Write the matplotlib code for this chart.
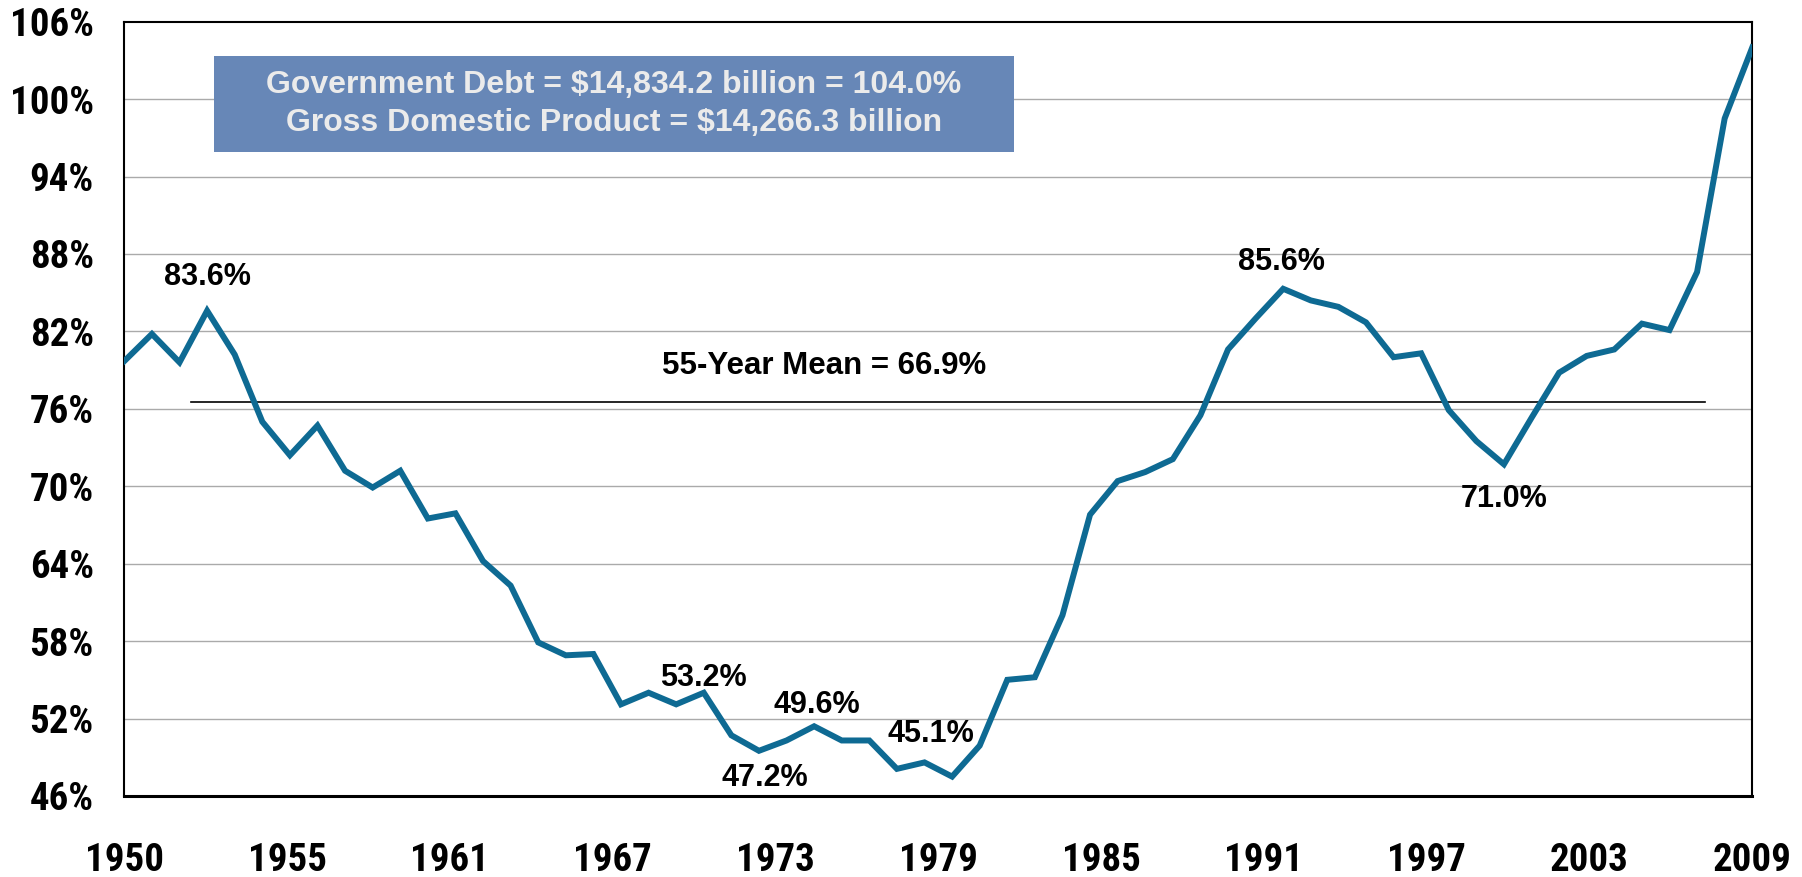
import numpy as np
import matplotlib
matplotlib.use("Agg")
import matplotlib.pyplot as plt
from matplotlib import font_manager
from matplotlib.patches import Rectangle

# Data (debt as % of GDP, one value per year 1950-2009)
years = list(range(1950, 2010))
debt_pct = [79.7, 81.8, 79.6, 83.6, 80.2, 75.0, 72.4, 74.7, 71.2, 69.9,
            71.2, 67.5, 67.9, 64.2, 62.3, 57.9, 56.9, 57.0, 53.1, 54.0,
            53.1, 54.0, 50.7, 49.5, 50.3, 51.4, 50.3, 50.3, 48.1, 48.6,
            47.5, 49.9, 55.0, 55.2, 60.0, 67.8, 70.4, 71.1, 72.1, 75.5,
            80.6, 83.0, 85.3, 84.4, 83.9, 82.7, 80.0, 80.3, 75.9, 73.5,
            71.7, 75.3, 78.8, 80.1, 80.6, 82.6, 82.1, 86.6, 98.5, 104.0]
x_tick_labels = ["1950", "1955", "1961", "1967", "1973", "1979",
                 "1985", "1991", "1997", "2003", "2009"]
y_ticks = [46, 52, 58, 64, 70, 76, 82, 88, 94, 100, 106]
mean_level = 76.5
mean_text = "55-Year Mean = 66.9%"
box_lines = ["Government Debt = $14,834.2 billion = 104.0%",
             "Gross Domestic Product = $14,266.3 billion"]
# point labels: year, text
point_labels = [(1953, "83.6%"), (1971, "53.2%"), (1973, "47.2%"),
                (1975, "49.6%"), (1980, "45.1%"), (1992, "85.6%"),
                (2000, "71.0%")]
# label offsets in pixels (dx, dy)
label_offsets = {1953: (0, 34), 1971: (0, 15), 1973: (6, -27),
                 1975: (3, 21), 1980: (-21, 43), 1992: (-2, 27),
                 2000: (0, -35)}

line_color = "#0e6a93"
normal = ["Liberation Sans", "DejaVu Sans"]

# tick labels in the reference use a narrow bold face; use one if installed
installed = {f.name for f in font_manager.fontManager.ttflist}
tick_family = normal
tick_size = 25
for cand in ["Liberation Sans Narrow", "DejaVu Sans Condensed", "Roboto Condensed",
             "Open Sans Condensed"]:
    if cand in installed:
        tick_family = [cand] + normal
        tick_size = 28
        break

fig = plt.figure(figsize=(18.02, 8.77), dpi=100)
ax = fig.add_axes([0.069, 0.0924, 0.9034, 0.8829])

idx = np.arange(len(debt_pct))
ax.plot(idx, debt_pct, color=line_color, lw=4.3, solid_joinstyle="miter", zorder=4)

ax.set_xlim(0, len(debt_pct) - 1)
ax.set_ylim(y_ticks[0], y_ticks[-1])

# x labels are spread evenly over the axis
ax.set_xticks(np.linspace(0, len(debt_pct) - 1, len(x_tick_labels)))
ax.set_xticklabels(x_tick_labels)
ax.set_yticks(y_ticks)
ax.set_yticklabels(["%d%%" % v for v in y_ticks])
for lab in ax.get_xticklabels() + ax.get_yticklabels():
    lab.set_family(tick_family)
    lab.set_fontweight("bold")
    lab.set_fontsize(tick_size)
ax.tick_params(axis="both", length=0)
ax.tick_params(axis="y", pad=22)
ax.tick_params(axis="x", pad=33)

for v in y_ticks[1:-1]:
    ax.axhline(v, color="#aaaaaa", lw=1.0, zorder=1)

for side in ["left", "right", "top"]:
    ax.spines[side].set_linewidth(1.5)
ax.spines["bottom"].set_linewidth(2.2)

# mean line
ax.axhline(mean_level, xmin=0.0407, xmax=0.971, color="black", lw=1.2, zorder=3)
ax.text(0.4298, 0.5553, mean_text, transform=ax.transAxes, ha="center", va="center",
        fontsize=22.5, fontweight="bold", family=normal)

# info box
ax.add_patch(Rectangle((0.0551, 0.832), 0.4914, 0.1237, transform=ax.transAxes,
                       facecolor="#6787b7", edgecolor="none", zorder=5))
ax.text(0.3008, 0.918, box_lines[0], transform=ax.transAxes, ha="center", va="center",
        fontsize=23, fontweight="bold", color="#ebebeb", family=normal, zorder=6)
ax.text(0.3008, 0.869, box_lines[1], transform=ax.transAxes, ha="center", va="center",
        fontsize=23, fontweight="bold", color="#ebebeb", family=normal, zorder=6)

# point labels
for yr, txt in point_labels:
    i = years.index(yr)
    dx, dy = label_offsets[yr]
    ax.annotate(txt, (i, debt_pct[i]), xytext=(dx, dy), textcoords="offset pixels",
                ha="center", va="center", fontsize=22, fontweight="bold", family=normal,
                zorder=7)

fig.savefig("out.png", dpi=100)
